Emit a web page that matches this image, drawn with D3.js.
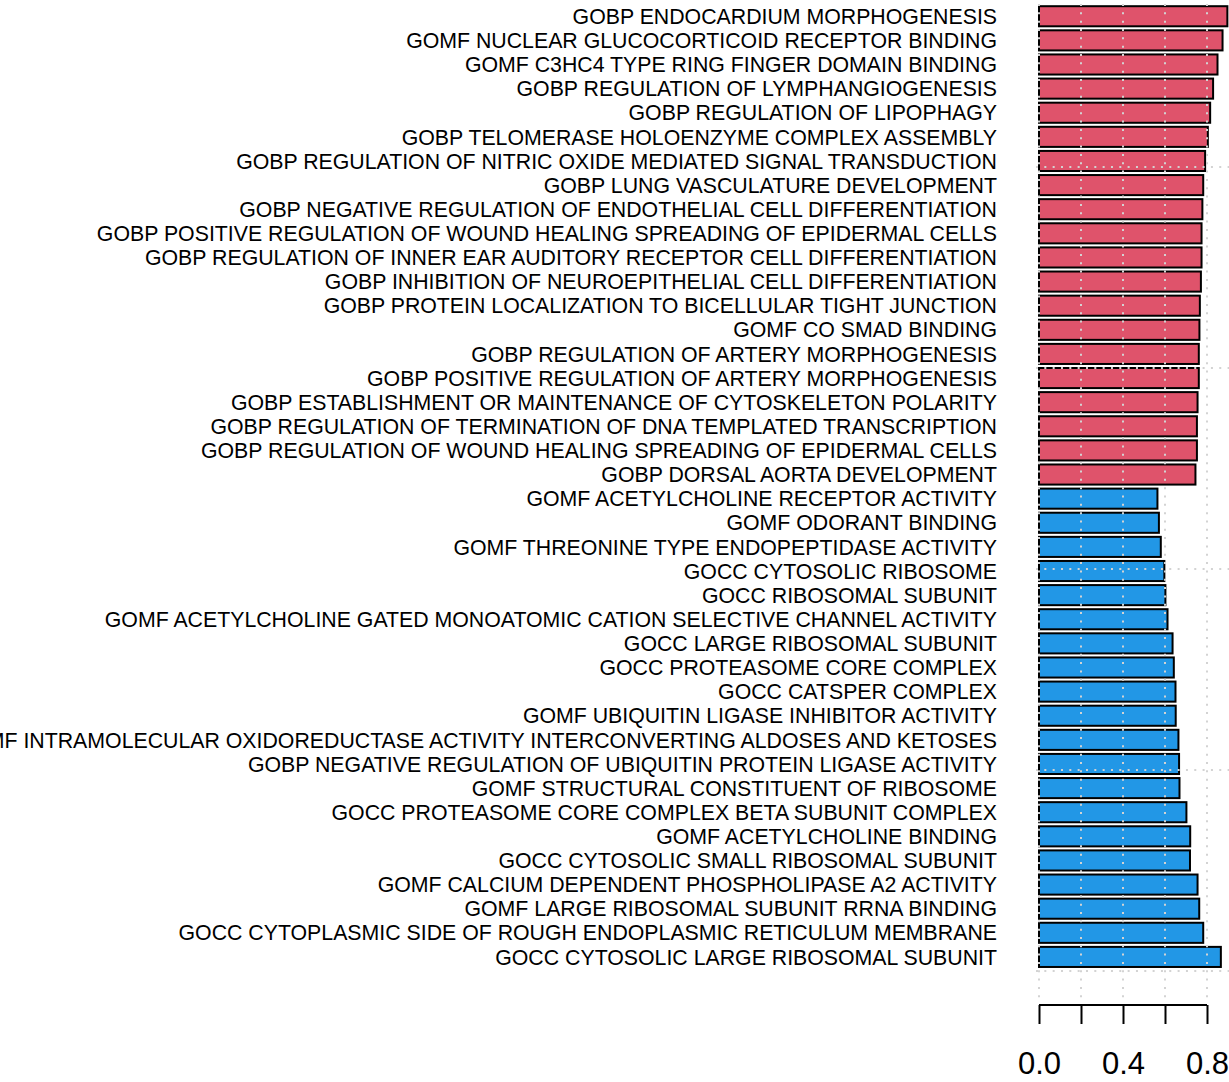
<!DOCTYPE html>
<html>
<head>
<meta charset="utf-8">
<script src="https://cdn.jsdelivr.net/npm/d3@7"></script>
<style>
  html, body { margin: 0; padding: 0; background: #fff; }
  svg { display: block; }
  text { font-family: "Liberation Sans", Arial, Helvetica, sans-serif; }
</style>
</head>
<body>
<svg id="chart" width="1229" height="1082"></svg>
<script>
// ---- data (top to bottom) ----
const upTerms = [
  "GOBP ENDOCARDIUM MORPHOGENESIS",
  "GOMF NUCLEAR GLUCOCORTICOID RECEPTOR BINDING",
  "GOMF C3HC4 TYPE RING FINGER DOMAIN BINDING",
  "GOBP REGULATION OF LYMPHANGIOGENESIS",
  "GOBP REGULATION OF LIPOPHAGY",
  "GOBP TELOMERASE HOLOENZYME COMPLEX ASSEMBLY",
  "GOBP REGULATION OF NITRIC OXIDE MEDIATED SIGNAL TRANSDUCTION",
  "GOBP LUNG VASCULATURE DEVELOPMENT",
  "GOBP NEGATIVE REGULATION OF ENDOTHELIAL CELL DIFFERENTIATION",
  "GOBP POSITIVE REGULATION OF WOUND HEALING SPREADING OF EPIDERMAL CELLS",
  "GOBP REGULATION OF INNER EAR AUDITORY RECEPTOR CELL DIFFERENTIATION",
  "GOBP INHIBITION OF NEUROEPITHELIAL CELL DIFFERENTIATION",
  "GOBP PROTEIN LOCALIZATION TO BICELLULAR TIGHT JUNCTION",
  "GOMF CO SMAD BINDING",
  "GOBP REGULATION OF ARTERY MORPHOGENESIS",
  "GOBP POSITIVE REGULATION OF ARTERY MORPHOGENESIS",
  "GOBP ESTABLISHMENT OR MAINTENANCE OF CYTOSKELETON POLARITY",
  "GOBP REGULATION OF TERMINATION OF DNA TEMPLATED TRANSCRIPTION",
  "GOBP REGULATION OF WOUND HEALING SPREADING OF EPIDERMAL CELLS",
  "GOBP DORSAL AORTA DEVELOPMENT"
];
const upValues = [0.897, 0.874, 0.850, 0.829, 0.815, 0.804, 0.791, 0.782, 0.778, 0.774,
                  0.774, 0.771, 0.766, 0.764, 0.761, 0.761, 0.755, 0.752, 0.752, 0.745];

const downTerms = [
  "GOMF ACETYLCHOLINE RECEPTOR ACTIVITY",
  "GOMF ODORANT BINDING",
  "GOMF THREONINE TYPE ENDOPEPTIDASE ACTIVITY",
  "GOCC CYTOSOLIC RIBOSOME",
  "GOCC RIBOSOMAL SUBUNIT",
  "GOMF ACETYLCHOLINE GATED MONOATOMIC CATION SELECTIVE CHANNEL ACTIVITY",
  "GOCC LARGE RIBOSOMAL SUBUNIT",
  "GOCC PROTEASOME CORE COMPLEX",
  "GOCC CATSPER COMPLEX",
  "GOMF UBIQUITIN LIGASE INHIBITOR ACTIVITY",
  "GOMF INTRAMOLECULAR OXIDOREDUCTASE ACTIVITY INTERCONVERTING ALDOSES AND KETOSES",
  "GOBP NEGATIVE REGULATION OF UBIQUITIN PROTEIN LIGASE ACTIVITY",
  "GOMF STRUCTURAL CONSTITUENT OF RIBOSOME",
  "GOCC PROTEASOME CORE COMPLEX BETA SUBUNIT COMPLEX",
  "GOMF ACETYLCHOLINE BINDING",
  "GOCC CYTOSOLIC SMALL RIBOSOMAL SUBUNIT",
  "GOMF CALCIUM DEPENDENT PHOSPHOLIPASE A2 ACTIVITY",
  "GOMF LARGE RIBOSOMAL SUBUNIT RRNA BINDING",
  "GOCC CYTOPLASMIC SIDE OF ROUGH ENDOPLASMIC RETICULUM MEMBRANE",
  "GOCC CYTOSOLIC LARGE RIBOSOMAL SUBUNIT"
];
const downValues = [0.564, 0.571, 0.580, 0.597, 0.602, 0.612, 0.636, 0.642, 0.650, 0.651,
                    0.664, 0.667, 0.669, 0.702, 0.720, 0.719, 0.755, 0.763, 0.782, 0.866];

const xTicks = [0, 0.2, 0.4, 0.6, 0.8];
const xTickLabels = ["0.0", "", "0.4", "", "0.8"];
const yGridTicks = [0, 10, 20, 30, 40];

const upColor = "#DF536B";
const downColor = "#2297E6";

// ---- build rows (top to bottom) ----
const rows = upTerms.map((t, i) => ({ term: t, value: upValues[i], color: upColor }))
  .concat(downTerms.map((t, i) => ({ term: t, value: downValues[i], color: downColor })));
const n = rows.length;

const svg = d3.select("#chart");

// R barplot-style coordinates: bars from bottom, width 1, space 0.2
const x = d3.scaleLinear().domain([0, 0.8]).range([1039, 1207]);
const y = d3.scaleLinear().domain([0, 40]).range([971, 167]);

// bottom index (R order): row k from top -> index n-1-k from bottom
function barLo(k) { const i = n - 1 - k; return 0.2 + 1.2 * i; }

// bars
svg.append("g").selectAll("rect")
  .data(rows)
  .join("rect")
  .attr("x", x(0))
  .attr("y", (d, k) => y(barLo(k) + 1))
  .attr("width", d => x(d.value) - x(0))
  .attr("height", (d, k) => y(barLo(k)) - y(barLo(k) + 1))
  .attr("fill", d => d.color)
  .attr("stroke", "#000")
  .attr("stroke-width", 2);

// labels
svg.append("g").selectAll("text")
  .data(rows)
  .join("text")
  .attr("x", 997)
  .attr("y", (d, k) => y(barLo(k) + 0.5))
  .attr("dy", "0.36em")
  .attr("text-anchor", "end")
  .attr("font-size", 21.3)
  .attr("fill", "#000")
  .text(d => d.term);

// grid (drawn over bars, like R's grid())
const grid = svg.append("g")
  .attr("stroke", "#D3D3D3")
  .attr("stroke-width", 2)
  .attr("stroke-dasharray", "2,6.33")
  .attr("fill", "none");

grid.selectAll("line.v")
  .data(xTicks)
  .join("line")
  .attr("class", "v")
  .attr("x1", d => x(d)).attr("x2", d => x(d))
  .attr("y1", 4).attr("y2", 998);

grid.selectAll("line.h")
  .data(yGridTicks)
  .join("line")
  .attr("class", "h")
  .attr("x1", 1036).attr("x2", 1229)
  .attr("y1", d => y(d)).attr("y2", d => y(d));

// x axis
const axisG = svg.append("g")
  .attr("transform", "translate(0,1005)")
  .call(d3.axisBottom(x)
    .tickValues(xTicks)
    .tickSize(19)
    .tickPadding(28)
    .tickFormat((d, i) => xTickLabels[i]));

axisG.select(".domain")
  .attr("d", `M${x(0)},0H${x(0.8)}`)
  .attr("stroke", "#000")
  .attr("stroke-width", 2);
axisG.selectAll(".tick line")
  .attr("stroke", "#000")
  .attr("stroke-width", 2);
axisG.selectAll(".tick text")
  .attr("font-family", "'Liberation Sans', Arial, Helvetica, sans-serif")
  .attr("font-size", 31)
  .attr("fill", "#000");
</script>
</body>
</html>
